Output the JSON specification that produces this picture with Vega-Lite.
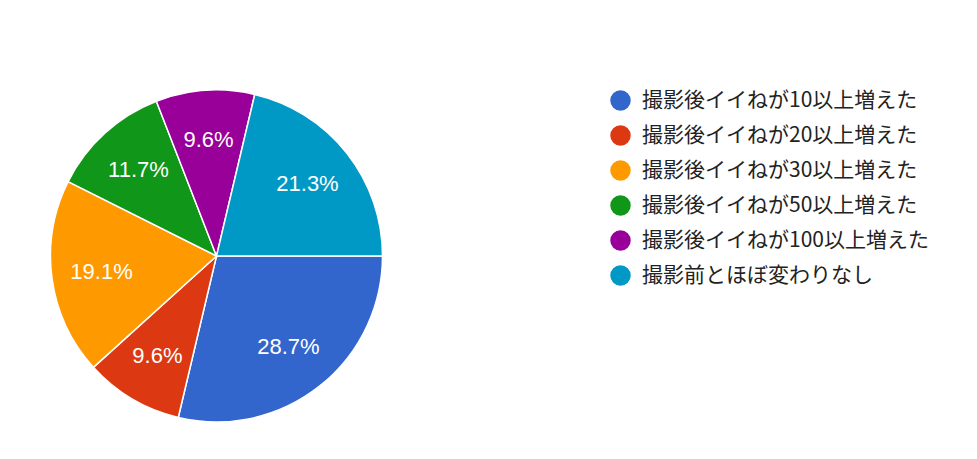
{
  "$schema": "https://vega.github.io/schema/vega-lite/v6.json",
  "width": 433,
  "height": 406,
  "autosize": {"type": "none"},
  "padding": {"left": 0, "top": 53, "right": 544, "bottom": 0},
  "background": "white",
  "data": {
    "values": [
      {"answer": "撮影後イイねが10以上増えた", "share": 0.287, "order": 1},
      {"answer": "撮影後イイねが20以上増えた", "share": 0.096, "order": 2},
      {"answer": "撮影後イイねが30以上増えた", "share": 0.191, "order": 3},
      {"answer": "撮影後イイねが50以上増えた", "share": 0.117, "order": 4},
      {"answer": "撮影後イイねが100以上増えた", "share": 0.096, "order": 5},
      {"answer": "撮影前とほぼ変わりなし", "share": 0.213, "order": 6}
    ]
  },
  "encoding": {
    "theta": {
      "field": "share",
      "type": "quantitative",
      "stack": true,
      "scale": {"range": [1.5708, 7.854]}
    },
    "order": {"field": "order", "type": "quantitative"},
    "color": {
      "field": "answer",
      "type": "nominal",
      "scale": {
        "domain": [
          "撮影後イイねが10以上増えた",
          "撮影後イイねが20以上増えた",
          "撮影後イイねが30以上増えた",
          "撮影後イイねが50以上増えた",
          "撮影後イイねが100以上増えた",
          "撮影前とほぼ変わりなし"
        ],
        "range": ["#3366cc", "#dc3912", "#ff9900", "#109618", "#990099", "#0099c6"]
      },
      "legend": {
        "title": null,
        "orient": "none",
        "legendX": 610,
        "legendY": 37,
        "symbolType": "circle",
        "symbolSize": 420,
        "symbolStrokeWidth": 0,
        "labelFont": "Noto Sans CJK JP",
        "labelFontSize": 21,
        "labelColor": "#222222",
        "labelOffset": 11,
        "labelLimit": 400,
        "rowPadding": 13
      }
    }
  },
  "layer": [
    {
      "mark": {"type": "arc", "outerRadius": 166, "stroke": "white", "strokeWidth": 1.5}
    },
    {
      "mark": {
        "type": "text",
        "radius": 116,
        "font": "Liberation Sans",
        "fontSize": 22
      },
      "encoding": {
        "text": {"field": "share", "type": "quantitative", "format": ".1%"},
        "color": {"value": "white"}
      }
    }
  ],
  "config": {"view": {"stroke": null}}
}
